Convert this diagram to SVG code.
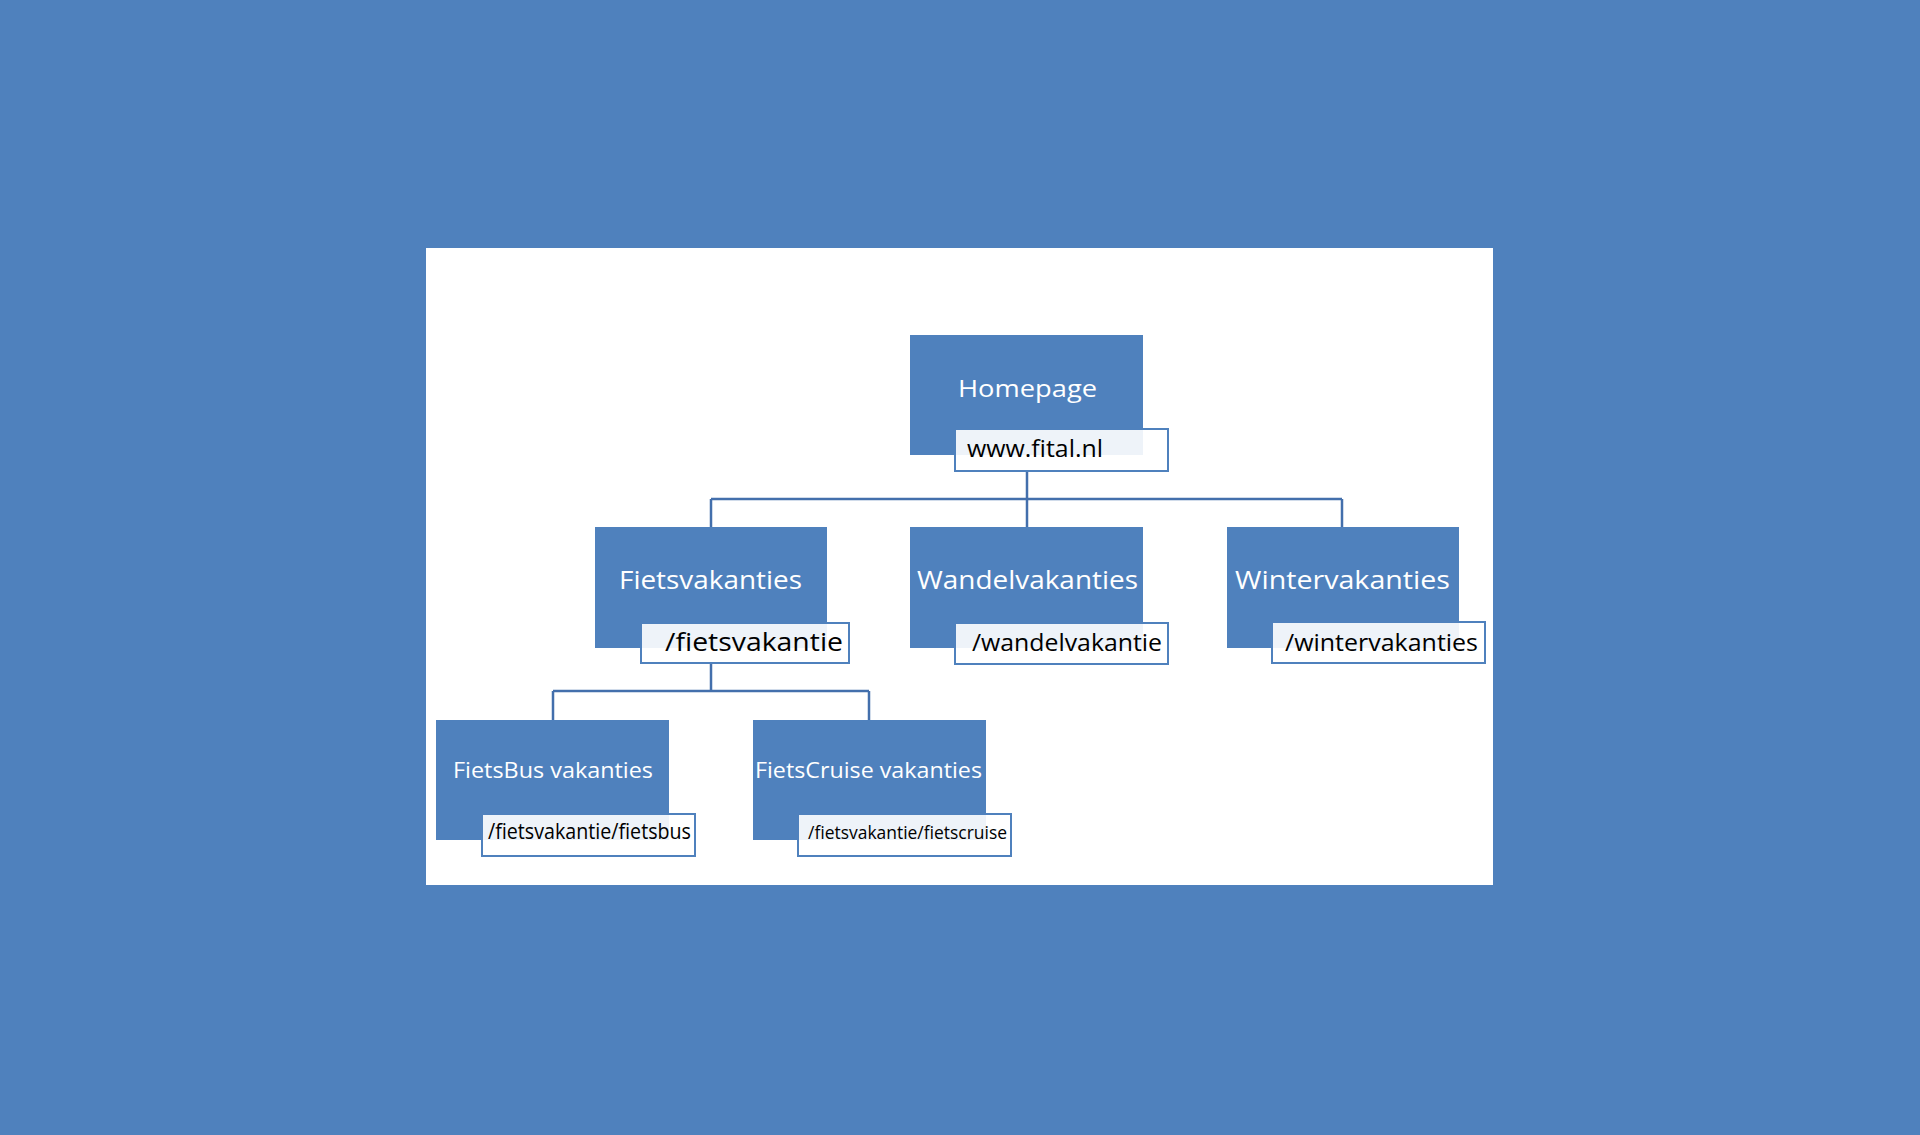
<svg xmlns="http://www.w3.org/2000/svg" width="1920" height="1135" viewBox="0 0 1920 1135">
<style>
.box{fill:#4f81bd}
.lbl{fill:#fff;fill-opacity:0.9;stroke:#4f81bd;stroke-width:2}
.t{font-family:"Open Sans","Liberation Sans",Arial,sans-serif;fill:#fff}
.u{font-family:"Open Sans","Liberation Sans",Arial,sans-serif;fill:#000}
.c{fill:none;stroke:#436fac;stroke-width:2.5}
</style>
<rect x="0" y="0" width="1920" height="1135" fill="#4f81bd"/>
<rect x="426" y="248" width="1067" height="637" fill="#fff"/>
<g id="connectors">
<path class="c" d="M1027 471 V527 M711 499 H1342 M711 499 V527 M1342 499 V527"/>
<path class="c" d="M711 663 V691 M553 691 H869 M553 691 V720 M869 691 V720"/>
</g>
<g id="homepage">
<rect class="box" x="910" y="335" width="233" height="120"/>
<text class="t" x="958" y="397" font-size="24" textLength="139" lengthAdjust="spacingAndGlyphs">Homepage</text>
<rect class="lbl" x="955" y="429" width="213" height="42"/>
<text class="u" x="967" y="457" font-size="23" textLength="136" lengthAdjust="spacingAndGlyphs">www.fital.nl</text>
</g>
<g id="fietsvakanties">
<rect class="box" x="595" y="527" width="232" height="121"/>
<text class="t" x="619" y="589" font-size="26" textLength="183" lengthAdjust="spacingAndGlyphs">Fietsvakanties</text>
<rect class="lbl" x="641" y="623" width="208" height="40"/>
<text class="u" x="665" y="651" font-size="26" textLength="178" lengthAdjust="spacingAndGlyphs">/fietsvakantie</text>
</g>
<g id="wandelvakanties">
<rect class="box" x="910" y="527" width="233" height="121"/>
<text class="t" x="917" y="589" font-size="26" textLength="221" lengthAdjust="spacingAndGlyphs">Wandelvakanties</text>
<rect class="lbl" x="955" y="623" width="213" height="41"/>
<text class="u" x="972" y="651" font-size="24" textLength="190" lengthAdjust="spacingAndGlyphs">/wandelvakantie</text>
</g>
<g id="wintervakanties">
<rect class="box" x="1227" y="527" width="232" height="121"/>
<text class="t" x="1235" y="589" font-size="26" textLength="215" lengthAdjust="spacingAndGlyphs">Wintervakanties</text>
<rect class="lbl" x="1272" y="622" width="213" height="41"/>
<text class="u" x="1285" y="651" font-size="24" textLength="193" lengthAdjust="spacingAndGlyphs">/wintervakanties</text>
</g>
<g id="fietsbus">
<rect class="box" x="436" y="720" width="233" height="120"/>
<text class="t" x="453" y="778" font-size="22" textLength="200" lengthAdjust="spacingAndGlyphs">FietsBus vakanties</text>
<rect class="lbl" x="482" y="814" width="213" height="42"/>
<text class="u" x="488" y="839" font-size="21" textLength="203" lengthAdjust="spacingAndGlyphs">/fietsvakantie/fietsbus</text>
</g>
<g id="fietscruise">
<rect class="box" x="753" y="720" width="233" height="120"/>
<text class="t" x="755" y="778" font-size="22" textLength="227" lengthAdjust="spacingAndGlyphs">FietsCruise vakanties</text>
<rect class="lbl" x="798" y="814" width="213" height="42"/>
<text class="u" x="808" y="839" font-size="18" textLength="199" lengthAdjust="spacingAndGlyphs">/fietsvakantie/fietscruise</text>
</g>
</svg>
